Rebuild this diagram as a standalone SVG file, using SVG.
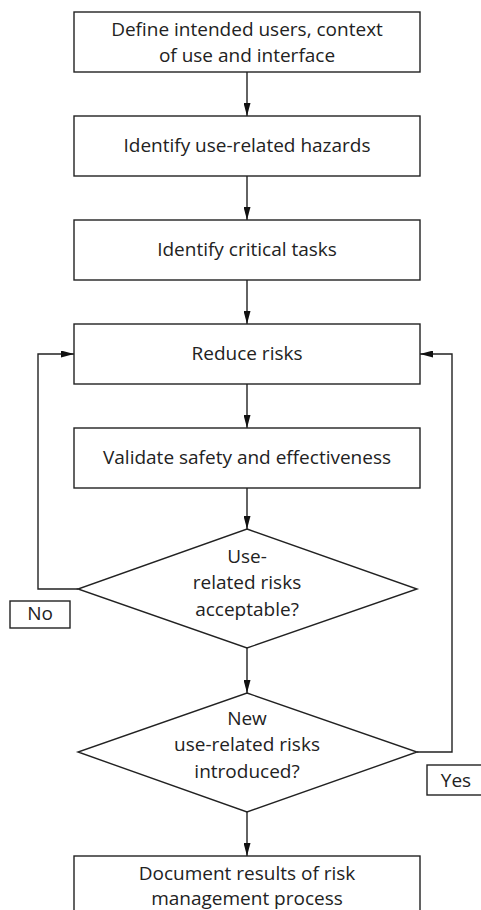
<svg xmlns="http://www.w3.org/2000/svg" width="481" height="910" viewBox="0 0 481 910">
<defs>
<style>
.box{fill:#fff;stroke:#222;stroke-width:1.4}
.t{font-family:"Open Sans","Noto Sans","Liberation Sans",sans-serif;font-size:19px;fill:#222;text-anchor:middle}
.c{fill:none;stroke:#222;stroke-width:1.4}
</style>
<marker id="ah" viewBox="0 0 13 7" refX="13" refY="3.5" markerWidth="13" markerHeight="7" markerUnits="userSpaceOnUse" orient="auto">
<path d="M0,0 L13,3.5 L0,7 z" fill="#111"/>
</marker>
</defs>
<rect width="481" height="910" fill="#fff"/>
<g id="connectors">
<line class="c" x1="247" y1="72" x2="247" y2="116" marker-end="url(#ah)"/>
<line class="c" x1="247" y1="176" x2="247" y2="220" marker-end="url(#ah)"/>
<line class="c" x1="247" y1="280" x2="247" y2="324" marker-end="url(#ah)"/>
<line class="c" x1="247" y1="384" x2="247" y2="428" marker-end="url(#ah)"/>
<line class="c" x1="247" y1="488" x2="247" y2="529" marker-end="url(#ah)"/>
<line class="c" x1="247" y1="648" x2="247" y2="693" marker-end="url(#ah)"/>
<line class="c" x1="247" y1="812" x2="247" y2="856" marker-end="url(#ah)"/>
<polyline class="c" points="78,589 38,589 38,354 74,354" marker-end="url(#ah)"/>
<polyline class="c" points="417,752 452,752 452,354 420,354" marker-end="url(#ah)"/>
</g>
<g id="n1"><rect class="box" x="74" y="12" width="346" height="60"/>
<text class="t" x="247" y="36">Define intended users, context</text>
<text class="t" x="247" y="62">of use and interface</text></g>
<g id="n2"><rect class="box" x="74" y="116" width="346" height="60"/>
<text class="t" x="247" y="152">Identify use-related hazards</text></g>
<g id="n3"><rect class="box" x="74" y="220" width="346" height="60"/>
<text class="t" x="247" y="256">Identify critical tasks</text></g>
<g id="n4"><rect class="box" x="74" y="324" width="346" height="60"/>
<text class="t" x="247" y="360">Reduce risks</text></g>
<g id="n5"><rect class="box" x="74" y="428" width="346" height="60"/>
<text class="t" x="247" y="464">Validate safety and effectiveness</text></g>
<g id="d1"><polygon class="box" points="247,529 417,589 247,648 78,589"/>
<text class="t" x="247" y="563">Use-</text>
<text class="t" x="247" y="589">related risks</text>
<text class="t" x="247" y="616">acceptable?</text></g>
<g id="no"><rect class="box" x="10" y="601" width="60" height="27"/>
<text class="t" x="40" y="620">No</text></g>
<g id="d2"><polygon class="box" points="247,693 417,752 247,812 78,752"/>
<text class="t" x="247" y="725">New</text>
<text class="t" x="247" y="751">use-related risks</text>
<text class="t" x="247" y="778">introduced?</text></g>
<g id="yes"><rect class="box" x="427" y="765" width="60" height="30"/>
<text class="t" x="456" y="787">Yes</text></g>
<g id="n6"><rect class="box" x="74" y="856" width="346" height="70"/>
<text class="t" x="247" y="880">Document results of risk</text>
<text class="t" x="247" y="905">management process</text></g>
</svg>
